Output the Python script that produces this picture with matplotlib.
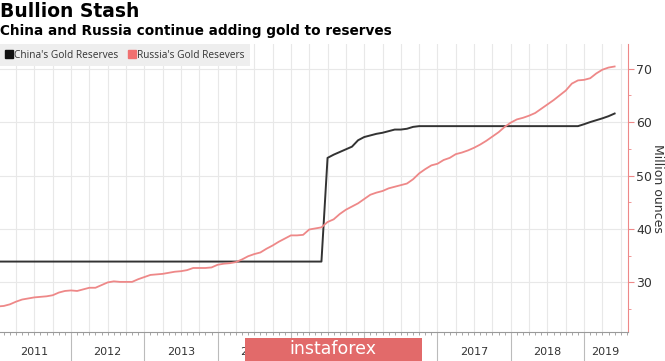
import numpy as np
import matplotlib
matplotlib.use("Agg")
import matplotlib.pyplot as plt
from matplotlib.lines import Line2D
from matplotlib.patches import Rectangle
from matplotlib.ticker import MultipleLocator, FixedLocator

# monthly data, Jan 2011 .. Jun 2019 (million ounces)
start_year = 2011
china = [33.9] * 54 + [
    53.3, 53.9, 54.4, 54.9, 55.4, 56.6, 57.2, 57.5, 57.8, 58.0, 58.3, 58.6,
    58.6, 58.75, 59.1, 59.24] + [59.24] * 26 + [59.6, 60.0, 60.35, 60.7, 61.1, 61.6]
russia = [
    25.5, 25.6, 25.9, 26.4, 26.8, 27.0, 27.2, 27.3, 27.4, 27.6, 28.1, 28.4,
    28.5, 28.4, 28.7, 29.0, 29.0, 29.5, 30.0, 30.2, 30.1, 30.1, 30.1, 30.6,
    31.0, 31.4, 31.5, 31.6, 31.8, 32.0, 32.1, 32.3, 32.7, 32.7, 32.7, 32.8,
    33.3, 33.5, 33.6, 33.8, 34.3, 34.9, 35.3, 35.6, 36.3, 36.9, 37.6, 38.2,
    38.8, 38.8, 38.9, 39.9, 40.1, 40.3, 41.3, 41.8, 42.8, 43.6, 44.2, 44.8,
    45.6, 46.4, 46.8, 47.1, 47.6, 47.9, 48.2, 48.5, 49.3, 50.4, 51.2, 51.9,
    52.2, 52.9, 53.3, 54.0, 54.3, 54.7, 55.2, 55.8, 56.5, 57.3, 58.1, 59.1,
    59.9, 60.5, 60.8, 61.2, 61.7, 62.5, 63.3, 64.1, 65.0, 65.9, 67.2, 67.8,
    67.9, 68.2, 69.1, 69.8, 70.2, 70.4]
year_labels = ["2011", "2012", "2013", "2014", "2015", "2016", "2017", "2018", "2019"]

t = start_year + np.arange(len(russia)) / 12.0

pink = "#ee8888"
fig = plt.figure(figsize=(6.65, 3.61), dpi=100)
ax = fig.add_axes([0.0, 0.080, 0.944, 0.798])

ax.plot(t, china, color="#333333", lw=1.4, zorder=3)
ax.plot(t, russia, color=pink, lw=1.3, zorder=3)

ax.set_xlim(2011.031, 2019.596)
ax.set_ylim(20.7, 74.6)

# y axis on the right
ax.yaxis.tick_right()
ax.yaxis.set_label_position("right")
ax.yaxis.set_major_locator(MultipleLocator(10))
ax.yaxis.set_minor_locator(MultipleLocator(5))
ax.tick_params(axis="y", which="major", length=4, color=pink, labelsize=9,
               labelcolor="#333333", pad=2)
ax.tick_params(axis="y", which="minor", length=2, color=pink)
ax.set_ylabel("Million ounces", rotation=270, fontsize=9, color="#333333",
              va="center", ha="center")
ax.yaxis.set_label_coords(1.048, 0.5)

# x axis: year separators + monthly ticks
ax.xaxis.set_major_locator(FixedLocator(np.arange(2011, 2020)))
ax.xaxis.set_minor_locator(MultipleLocator(1 / 12))
ax.tick_params(axis="x", which="major", length=22, color="#bbbbbb", labelbottom=False)
ax.tick_params(axis="x", which="minor", length=2, color="#999999")

for s in ["top", "left"]:
    ax.spines[s].set_visible(False)
ax.spines["right"].set_color(pink)
ax.spines["bottom"].set_color("#999999")

# grid: quarterly verticals, horizontal at majors
for q in np.arange(2011, 2019.6, 0.25):
    ax.axvline(q, color="#e8e8e8", lw=0.8, zorder=0)
ax.grid(axis="y", which="major", color="#e8e8e8", lw=0.8)
ax.set_axisbelow(True)

for i, lab in enumerate(year_labels):
    x0 = 2011 + i
    xc = x0 + 0.5 if lab != "2019" else 2019.29
    ax.text(xc, -0.068, lab, transform=ax.get_xaxis_transform(), ha="center",
            va="center", fontsize=8, color="#333333")

handles = [Line2D([], [], ls="none", marker="s", ms=6, color="#111111"),
           Line2D([], [], ls="none", marker="s", ms=6, color="#f07070")]
leg = ax.legend(handles, ["China's Gold Reserves", "Russia's Gold Resevers"],
                loc="upper left", bbox_to_anchor=(0, 1), borderaxespad=0, ncol=2,
                frameon=True, facecolor="#eeeeee", edgecolor="none", fancybox=False,
                framealpha=1, handlelength=0.6, handletextpad=0.25, columnspacing=1.0,
                prop={"family": "Open Sans", "size": 7.3}, borderpad=0.55)
for txt in leg.get_texts():
    txt.set_color("#333333")

fig.text(0.0, 0.967, "Bullion Stash", fontsize=13.5, fontweight="bold", va="center", ha="left")
fig.text(0.0, 0.914, "China and Russia continue adding gold to reserves", fontsize=9.8,
         fontweight="bold", va="center", ha="left")

# watermark
fig.patches.append(Rectangle((245 / 665, 0), 177 / 665, 23 / 361, transform=fig.transFigure,
                             facecolor="#e26a6a", edgecolor="none", zorder=5))
fig.text(333 / 665, 12 / 361, "instaforex", color="white", fontsize=12.5, ha="center",
         va="center", zorder=6)

fig.savefig("out.png", dpi=100)
